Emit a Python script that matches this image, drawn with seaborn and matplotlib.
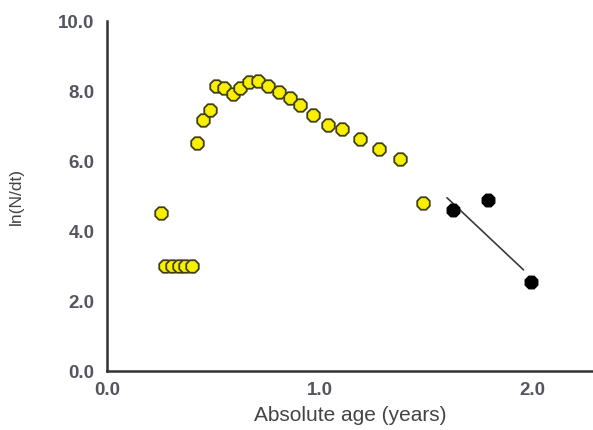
import matplotlib
matplotlib.use("Agg")
import matplotlib.pyplot as plt
import seaborn as sns
import pandas as pd

# Data
yellow_x = [0.255, 0.274, 0.307, 0.340, 0.368, 0.401, 0.423, 0.454, 0.483, 0.514, 0.549,
            0.591, 0.627, 0.667, 0.711, 0.758, 0.808, 0.863, 0.910, 0.970, 1.041, 1.107,
            1.19, 1.28, 1.379, 1.489]
yellow_y = [4.51, 3.0, 3.0, 3.0, 3.0, 3.0, 6.52, 7.17, 7.46, 8.15, 8.08,
            7.93, 8.10, 8.27, 8.29, 8.14, 7.96, 7.79, 7.60, 7.31, 7.03, 6.91,
            6.64, 6.33, 6.05, 4.81]
black_x = [1.626, 1.791, 1.995]
black_y = [4.60, 4.89, 2.53]
line_x = [1.60, 1.96]
line_y = [4.95, 2.89]
xticks = [0.0, 1.0, 2.0]
yticks = [0.0, 2.0, 4.0, 6.0, 8.0, 10.0]

sns.set_style("white")
plt.rcParams['font.family'] = ['Liberation Sans', 'DejaVu Sans']

fig = plt.figure(figsize=(5.93, 4.30), dpi=100)
ax = fig.add_axes([0.1804, 0.1372, 0.8196, 0.8138])

dy = pd.DataFrame({"x": yellow_x, "y": yellow_y})
db = pd.DataFrame({"x": black_x, "y": black_y})
dl = pd.DataFrame({"x": line_x, "y": line_y})

sns.lineplot(data=dl, x="x", y="y", ax=ax, color="#3a3a3a", linewidth=1.2)
sns.scatterplot(data=dy, x="x", y="y", ax=ax, marker="8", s=95, color="#f8f000",
                edgecolor="#3f3f10", linewidth=1.3, zorder=3)
sns.scatterplot(data=db, x="x", y="y", ax=ax, marker="8", s=95, color="#000000",
                edgecolor="#000000", linewidth=1.0, zorder=3)

ax.set_xlim(0, 2.287)
ax.set_ylim(0, 10)
ax.set_xticks(xticks)
ax.set_yticks(yticks)
ax.set_xticklabels([f"{v:.1f}" for v in xticks])
ax.set_yticklabels([f"{v:.1f}" for v in yticks])

for s in ["top", "right"]:
    ax.spines[s].set_visible(False)
for s in ["left", "bottom"]:
    ax.spines[s].set_color("#333333")
    ax.spines[s].set_linewidth(1.8)

ax.tick_params(axis="both", direction="in", length=5, width=1.6, color="#333333",
               labelsize=13.5, labelcolor="#555560")
ax.tick_params(axis="y", pad=9)
ax.tick_params(axis="x", pad=8)
for lab in ax.get_xticklabels() + ax.get_yticklabels():
    lab.set_fontweight("bold")

ax.set_xlabel("Absolute age (years)", fontsize=15, color="#444444", labelpad=5)
ax.set_ylabel("ln(N/dt)", fontsize=12.5, color="#444444", labelpad=25)

fig.savefig("out.png", dpi=100)
